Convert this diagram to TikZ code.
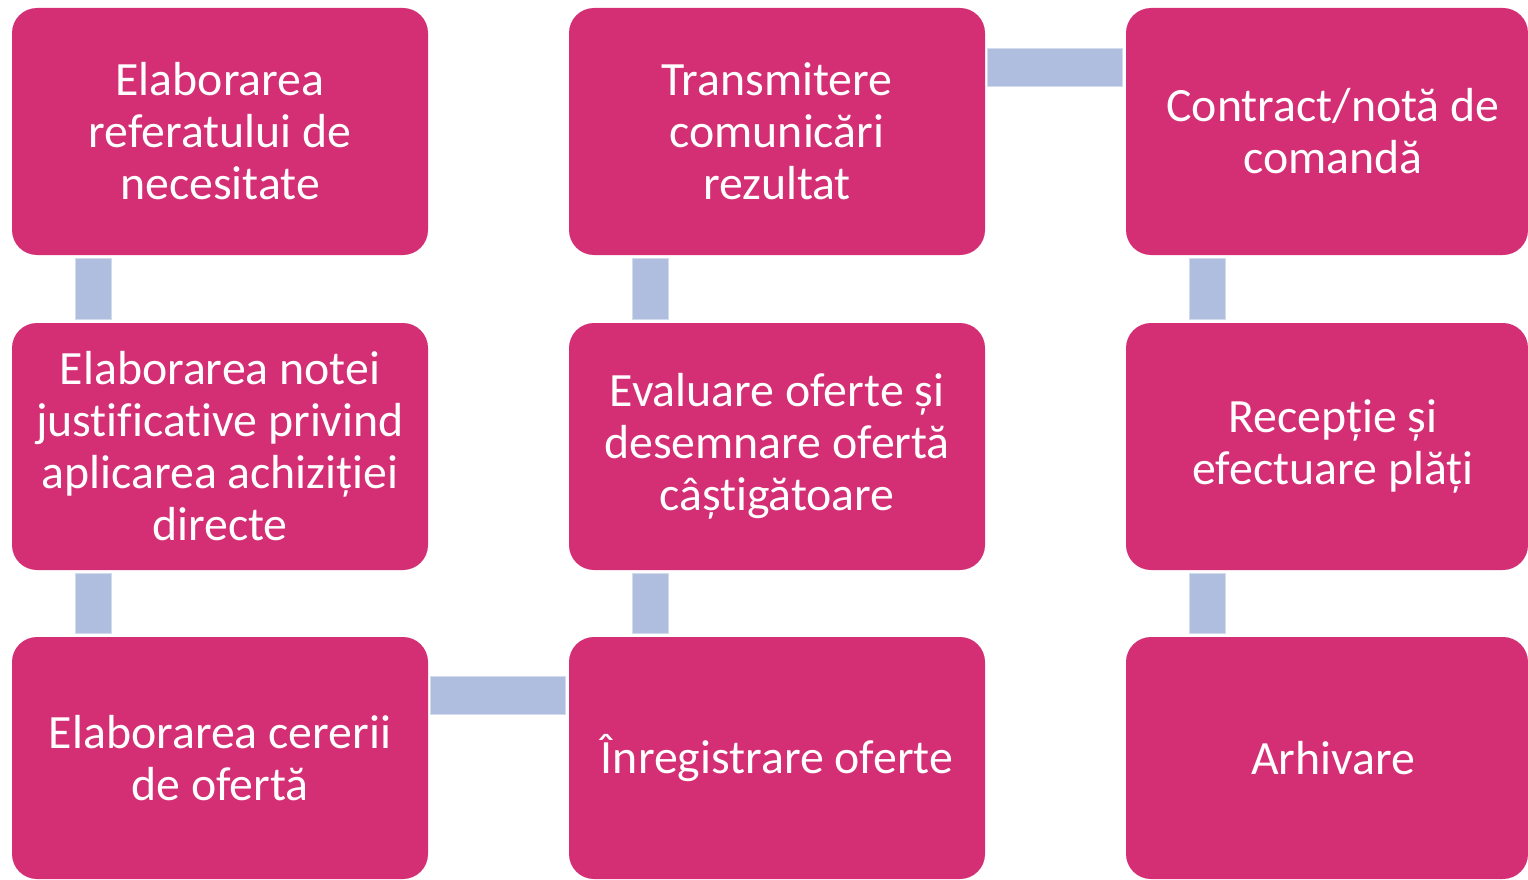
\documentclass[tikz,border=0pt]{standalone}
\usepackage{fontspec}
\setmainfont[Ligatures=NoCommon]{Carlito}
\definecolor{boxc}{HTML}{D42E74}
\definecolor{barc}{HTML}{AFBDDF}
\definecolor{barb}{HTML}{D3DBEF}
\tikzset{
  stepbox/.style={draw=none, fill=boxc, rounded corners=25pt, inner sep=0pt,
    minimum width=416pt, minimum height=247pt, align=center, text=white,
    font=\fontsize{47.8}{52}\selectfont},
  bar/.style={fill=barc, draw=barb, line width=0.8pt}
}
\begin{document}
\begin{tikzpicture}[x=1pt,y=-1pt]
\useasboundingbox (0,0) rectangle (1528,880);
\clip (0,0) rectangle (1528,880);
% column 1
\node[stepbox] (b1) at (220,131.5) {Elaborarea\\referatului de\\necesitate};
\node[stepbox] (b2) at (220,446.5) {Elaborarea notei\\justificative privind\\aplicarea achiziției\\directe};
\node[stepbox, minimum height=242pt] (b3) at (220,758) {Elaborarea cererii\\de ofertă};
% column 2
\node[stepbox, minimum height=242pt] (b4) at (777,758) {Înregistrare oferte};
\node[stepbox] (b5) at (777,446.5) {Evaluare oferte și\\desemnare ofertă\\câștigătoare};
\node[stepbox] (b6) at (777,131.5) {Transmitere\\comunicări\\rezultat};
% column 3
\node[stepbox, minimum width=402pt] (b7) at (1327,131.5) {\hspace*{12pt}Contract/notă de\\\hspace*{12pt}comandă};
\node[stepbox, minimum width=402pt] (b8) at (1327,446.5) {\hspace*{12pt}Recepție și\\\hspace*{12pt}efectuare plăți};
\node[stepbox, minimum width=402pt, minimum height=242pt] (b9) at (1327,758) {\hspace*{12pt}Arhivare};
% connectors
\draw[bar] ([xshift=64pt,yshift=-3pt]b1.south west) rectangle ([xshift=100pt,yshift=3pt]b2.north west);
\draw[bar] ([xshift=64pt,yshift=-3pt]b2.south west) rectangle ([xshift=100pt,yshift=3pt]b3.north west);
\draw[bar] ([xshift=2pt,yshift=-40pt]b3.north east) rectangle ([xshift=-3pt,yshift=-78pt]b4.north west);
\draw[bar] ([xshift=64pt,yshift=3pt]b4.north west) rectangle ([xshift=100pt,yshift=-3pt]b5.south west);
\draw[bar] ([xshift=64pt,yshift=3pt]b5.north west) rectangle ([xshift=100pt,yshift=-3pt]b6.south west);
\draw[bar] ([xshift=2pt,yshift=-41pt]b6.north east) rectangle ([xshift=-3pt,yshift=-79pt]b7.north west);
\draw[bar] ([xshift=64pt,yshift=-3pt]b7.south west) rectangle ([xshift=100pt,yshift=3pt]b8.north west);
\draw[bar] ([xshift=64pt,yshift=-3pt]b8.south west) rectangle ([xshift=100pt,yshift=3pt]b9.north west);
\end{tikzpicture}
\end{document}
